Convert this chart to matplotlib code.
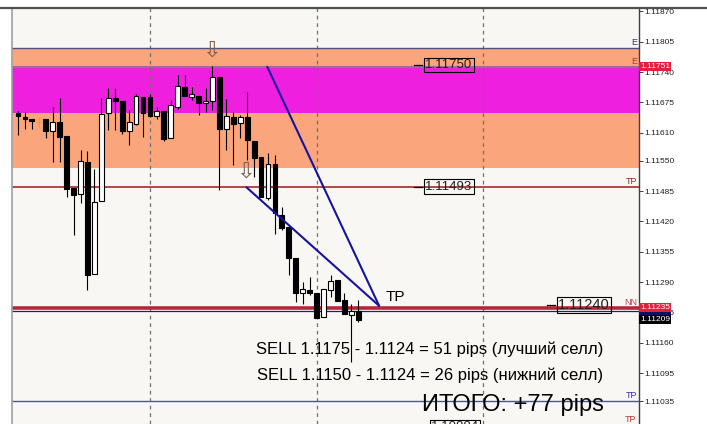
import matplotlib
matplotlib.use("Agg")
import numpy as np
import matplotlib.pyplot as plt
import matplotlib.transforms as mtransforms
from matplotlib.lines import Line2D

# ==========================================================
# CONFIGURAÇÕES
# ==========================================================

plt.rcParams["font.family"] = ["Liberation Sans", "DejaVu Sans"]

LARGURA_PX = 707
ALTURA_PX = 424

# ==========================================================
# DADOS - velas EURUSD
# ==========================================================

OPEN = [1.11652, 1.11644, 1.11639, 1.11634, 1.11639, 1.11614, 1.11634, 1.11603,
        1.11492, 1.11478, 1.11548, 1.11307, 1.11464, 1.11652, 1.11684, 1.11678,
        1.11614, 1.11629, 1.11687, 1.11686, 1.11646, 1.11656, 1.11598, 1.11665,
        1.11707, 1.11687, 1.11689, 1.11674, 1.11677, 1.11729, 1.11618, 1.11644,
        1.11630, 1.11643, 1.11592, 1.11557, 1.11470, 1.11542, 1.11434, 1.11409,
        1.11341, 1.11267, 1.11273, 1.11266, 1.11216, 1.11274, 1.11294, 1.11252,
        1.11220, 1.11227]

HIGH = [1.11657, 1.11655, 1.11639, 1.11644, 1.11639, 1.11666, 1.11684, 1.11603,
        1.11492, 1.11573, 1.11571, 1.11532, 1.11684, 1.11705, 1.11705, 1.11678,
        1.11659, 1.11694, 1.11687, 1.11694, 1.11666, 1.11656, 1.11680, 1.11734,
        1.11734, 1.11709, 1.11689, 1.11705, 1.11752, 1.11729, 1.11682, 1.11655,
        1.11648, 1.11698, 1.11592, 1.11557, 1.11566, 1.11562, 1.11451, 1.11409,
        1.11341, 1.11290, 1.11301, 1.11266, 1.11276, 1.11305, 1.11294, 1.11266,
        1.11244, 1.11252]

LOW = [1.11605, 1.11619, 1.11619, 1.11623, 1.11598, 1.11548, 1.11548, 1.11472,
       1.11391, 1.11459, 1.11274, 1.11307, 1.11464, 1.11616, 1.11616, 1.11607,
       1.11584, 1.11627, 1.11601, 1.11644, 1.11639, 1.11593, 1.11598, 1.11661,
       1.11689, 1.11680, 1.11648, 1.11655, 1.11659, 1.11487, 1.11573, 1.11541,
       1.11598, 1.11552, 1.11516, 1.11473, 1.11466, 1.11394, 1.11402, 1.11305,
       1.11248, 1.11243, 1.11262, 1.11213, 1.11216, 1.11259, 1.11249, 1.11222,
       1.11119, 1.11205]

CLOSE = [1.11646, 1.11639, 1.11636, 1.11634, 1.11614, 1.11632, 1.11601, 1.11489,
         1.11477, 1.11549, 1.11305, 1.11462, 1.11650, 1.11684, 1.11677, 1.11614,
         1.11632, 1.11689, 1.11652, 1.11646, 1.11657, 1.11597, 1.11669, 1.11710,
         1.11689, 1.11692, 1.11674, 1.11678, 1.11729, 1.11618, 1.11646, 1.11628,
         1.11644, 1.11594, 1.11555, 1.11473, 1.11542, 1.11437, 1.11405, 1.11341,
         1.11267, 1.11276, 1.11266, 1.11214, 1.11276, 1.11292, 1.11249, 1.11222,
         1.11228, 1.11209]

# escala de preços (lado direito)
EIXO_PRECOS = [1.11870, 1.11805, 1.11740, 1.11675, 1.11610, 1.11550, 1.11485,
               1.11420, 1.11355, 1.11290, 1.11225, 1.11160, 1.11095, 1.11035]

# zonas e níveis
NIVEL_E = 1.11792
NIVEL_ENTRADA = 1.11751
ZONA_MAGENTA_BAIXO = 1.11653
ZONA_LARANJA_BAIXO = 1.11534
NIVEL_TP1 = 1.11493
NIVEL_NN = 1.11235
NIVEL_AZUL = 1.11228
NIVEL_TP2 = 1.11035
PRECO_ATUAL = 1.11209

# linhas de tendência: (vela, preço) inicial e final
TENDENCIA_1 = [(35.9, 1.11751), (52.0, 1.11239)]
TENDENCIA_2 = [(32.9, 1.11493), (52.0, 1.11239)]

# setas de venda
SETAS_X = [27.8, 32.7]
SETAS_Y = [1.11786, 1.11526]

GRADE_X = [19, 43, 67]

TEXTO_1 = "SELL 1.1175 - 1.1124 = 51 pips (лучший селл)"
TEXTO_2 = "SELL 1.1150 - 1.1124 = 26 pips (нижний селл)"
TEXTO_TOTAL = "ИТОГО: +77 pips"


def fig_xy(px, py):
    return px / LARGURA_PX, 1 - py / ALTURA_PX


# ==========================================================
# GRÁFICO
# ==========================================================

def grafico():

    fig = plt.figure(figsize=(LARGURA_PX / 100, ALTURA_PX / 100), dpi=100)
    fig.patch.set_facecolor("white")

    ax = fig.add_axes([12 / LARGURA_PX, 0, 627 / LARGURA_PX, 416 / ALTURA_PX])
    ax.set_facecolor("#F9F7F4")
    ax.set_xlim(-0.864, 89.42)
    ax.set_ylim(1.109858, 1.118773)

    # zonas
    ax.axhspan(NIVEL_ENTRADA, NIVEL_E, color="#FBA57C", lw=0, zorder=0.5)
    ax.axhspan(ZONA_MAGENTA_BAIXO, NIVEL_ENTRADA, color="#EE1FDF", lw=0, zorder=0.5)
    ax.axhspan(ZONA_LARANJA_BAIXO, ZONA_MAGENTA_BAIXO, color="#FBA57C", lw=0, zorder=0.5)

    # grade vertical
    for gx in GRADE_X:
        ax.axvline(gx, color="#707070", lw=0.9, ls=(0, (3, 3)), zorder=1)

    # níveis horizontais
    ax.axhline(NIVEL_E, color="#505080", lw=1.0, zorder=2)
    ax.axhline(NIVEL_ENTRADA, color="#9A6E9A", lw=1.5, zorder=2)
    ax.axhline(NIVEL_TP1, color="#A52A2A", lw=1.2, zorder=2)
    ax.axhline(NIVEL_NN, color="#B5283A", lw=2.6, zorder=2)
    ax.axhline(NIVEL_AZUL, color="#202070", lw=0.9, zorder=2)
    ax.axhline(NIVEL_TP2, color="#5050A0", lw=1.0, zorder=2)

    # velas
    x = np.arange(len(OPEN))
    o = np.array(OPEN)
    h = np.array(HIGH)
    l = np.array(LOW)
    c = np.array(CLOSE)

    alta = c > o
    baixa = c < o
    doji = c == o

    ax.vlines(x[~doji], l[~doji], h[~doji], color="black", lw=0.8, zorder=3)
    ax.bar(x[alta], (c - o)[alta], bottom=o[alta], width=0.7,
           color="white", edgecolor="black", lw=0.8, zorder=4)
    ax.bar(x[baixa], (o - c)[baixa], bottom=c[baixa], width=0.7,
           color="black", edgecolor="black", lw=0.8, zorder=4)
    ax.vlines(x[doji], l[doji], h[doji], color="#F09A40", lw=0.9, zorder=3)
    ax.hlines(o[doji], x[doji] - 0.35, x[doji] + 0.35, color="#F09A40", lw=0.9, zorder=3)

    # linhas de tendência
    for linha in (TENDENCIA_1, TENDENCIA_2):
        ax.plot([linha[0][0], linha[1][0]], [linha[0][1], linha[1][1]],
                color="#1414A0", lw=1.5, zorder=5, solid_capstyle="round")

    # setas
    for sx, sy in zip(SETAS_X, SETAS_Y):
        ax.text(sx, sy, "⇩", fontsize=16, color="#7A6050", ha="center", va="center",
                family="DejaVu Sans", zorder=6)

    # eixo de preços
    ax.yaxis.tick_right()
    ax.set_yticks(EIXO_PRECOS)
    ax.set_yticklabels([f"{p:.5f}" for p in EIXO_PRECOS])
    ax.tick_params(axis="y", length=3, width=0.6, pad=1, labelsize=6, colors="#202020")
    ax.set_xticks([])
    for lado in ("top", "bottom"):
        ax.spines[lado].set_visible(False)
    ax.spines["left"].set_color("#A0A0A0")
    ax.spines["left"].set_linewidth(1.2)
    ax.spines["right"].set_color("#404040")
    ax.spines["right"].set_linewidth(1.0)

    fig.add_artist(Line2D([0, 1], [1 - 8 / ALTURA_PX] * 2, color="#505050", lw=1.6))

    # etiquetas no eixo (a azul fica por baixo, como no terminal)
    mista = mtransforms.blended_transform_factory(ax.transAxes, ax.transData)
    etiquetas = [
        (NIVEL_AZUL, "#101060", 10),
        (NIVEL_ENTRADA, "#E0203C", 11),
        (NIVEL_NN, "#E0203C", 11),
        (PRECO_ATUAL, "black", 12),
    ]
    for preco, cor, z in etiquetas:
        ax.text(1.002, preco, f"{preco:.5f}", transform=mista, fontsize=6,
                color="white", ha="left", va="center", zorder=z, clip_on=False,
                bbox=dict(boxstyle="square,pad=0.12", fc=cor, ec="none"))

    # marcadores no fim das linhas
    marcas = [
        (NIVEL_E, "E", "#303070"),
        (NIVEL_ENTRADA, "E", "#C03030"),
        (NIVEL_TP1, "TP", "#A02020"),
        (NIVEL_NN, "NN", "#C04050"),
        (NIVEL_TP2, "TP", "#3030A0"),
    ]
    for preco, rotulo, cor in marcas:
        ax.text(0.997, preco + 0.00002, rotulo, transform=mista, fontsize=6.5,
                color=cor, ha="right", va="bottom", zorder=7)
    fig.text(*fig_xy(636, 424), "TP", fontsize=6.5, color="#C03030", ha="right", va="bottom")

    # caixas de preço
    caixas = [
        (449, 65, "1.11750", 9.5),
        (449, 186.5, "1.11493", 9.5),
        (584, 305, "1.11240", 10.5),
        (455, 427, "1.10884", 9.5),
    ]
    for px, py, texto, tam in caixas:
        fig.text(*fig_xy(px, py), texto, fontsize=tam, color="#202020",
                 ha="center", va="center", zorder=8,
                 bbox=dict(boxstyle="square,pad=0.1", fc="none", ec="black", lw=0.8))
        meia = 27 if tam < 10 else 29
        x0, y0 = fig_xy(px - meia - 8, py)
        x1, _ = fig_xy(px - meia, py)
        fig.add_artist(Line2D([x0, x1], [y0, y0], color="black", lw=0.9))

    # textos
    fig.text(*fig_xy(386, 301), "TP", fontsize=11, color="black", va="baseline")
    fig.text(*fig_xy(256, 354), TEXTO_1, fontsize=11.95, color="black", va="baseline")
    fig.text(*fig_xy(257, 380), TEXTO_2, fontsize=11.95, color="black", va="baseline")
    fig.text(*fig_xy(422, 411.5), TEXTO_TOTAL, fontsize=17, color="black", va="baseline")

    fig.savefig("out.png", dpi=100)


def main():

    grafico()


if __name__ == "__main__":

    main()
